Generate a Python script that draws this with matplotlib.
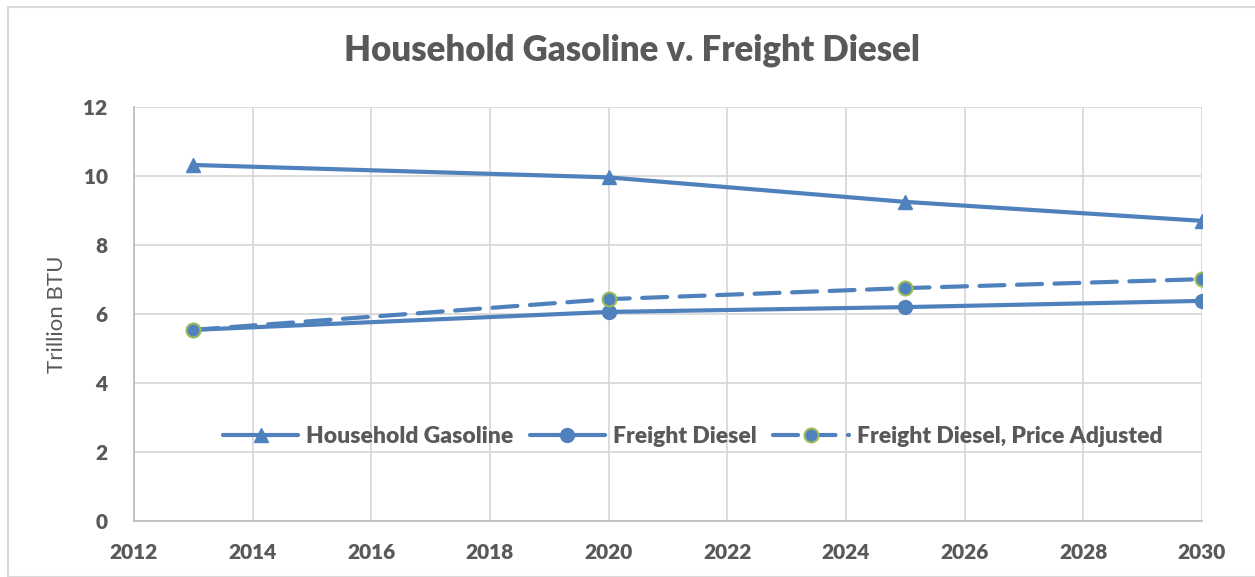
import matplotlib
matplotlib.use("Agg")
import matplotlib.pyplot as plt
from matplotlib.patches import Rectangle

years = [2013, 2020, 2025, 2030]
gasoline = [10.32, 9.96, 9.25, 8.70]
diesel = [5.54, 6.06, 6.20, 6.38]
diesel_adj = [5.54, 6.43, 6.75, 7.01]

x_ticks = list(range(2012, 2031, 2))
y_ticks = list(range(0, 13, 2))

blue = "#4F81BD"
text_col = "#595959"
grid_col = "#D9D9D9"
weight = 'heavy'

plt.rcParams['font.family'] = ['Lato', 'DejaVu Sans']

fig = plt.figure(figsize=(12.55, 5.77), dpi=100)
ax = fig.add_axes([134 / 1255, 1 - 521 / 577, (1202 - 134) / 1255, (521 - 107) / 577])

# chart frame
fig.patches.append(Rectangle((8 / 1255, 0), 1.0, 1 - 7 / 577,
                             transform=fig.transFigure, fill=False,
                             edgecolor=grid_col, linewidth=1.5))

ax.plot(years, gasoline, color=blue, linewidth=3, marker='^', markersize=10,
        label="Household Gasoline", solid_capstyle='round')
ax.plot(years, diesel, color=blue, linewidth=3, marker='o', markersize=10,
        label="Freight Diesel", solid_capstyle='round')
ax.plot(years, diesel_adj, color=blue, linewidth=3, linestyle=(0, (6, 3)),
        marker='o', markersize=10, markeredgecolor="#9BBB59",
        markeredgewidth=1.5, label="Freight Diesel, Price Adjusted",
        dash_capstyle='round')

ax.set_xlim(2012, 2030)
ax.set_ylim(0, 12)
ax.set_xticks(x_ticks)
ax.set_yticks(y_ticks)
ax.grid(True, color=grid_col, linewidth=1.3)
ax.set_axisbelow(True)
for s in ['top', 'right']:
    ax.spines[s].set_visible(False)
for s in ['left', 'bottom']:
    ax.spines[s].set_color("#BFBFBF")
    ax.spines[s].set_linewidth(1.3)
ax.tick_params(length=0, colors=text_col, labelsize=15)
ax.tick_params(axis='x', pad=16)
ax.tick_params(axis='y', pad=19)
for lbl in ax.get_xticklabels() + ax.get_yticklabels():
    lbl.set_fontweight(weight)

ax.set_ylabel("Trillion BTU", color=text_col, fontsize=16)
ax.yaxis.set_label_coords(-0.063, 0.5)
fig.text(632 / 1255, 1 - 50 / 577, "Household Gasoline v. Freight Diesel",
         ha='center', va='center', fontsize=25, fontweight=weight, color=text_col)

leg = ax.legend(loc='center', bbox_to_anchor=(0.523, 0.205), ncol=3,
                frameon=False, fontsize=16.5, handlelength=3.3,
                columnspacing=0.7, handletextpad=0.35)
for t in leg.get_texts():
    t.set_color(text_col)
    t.set_fontweight(weight)

fig.savefig("out.png", dpi=100)
